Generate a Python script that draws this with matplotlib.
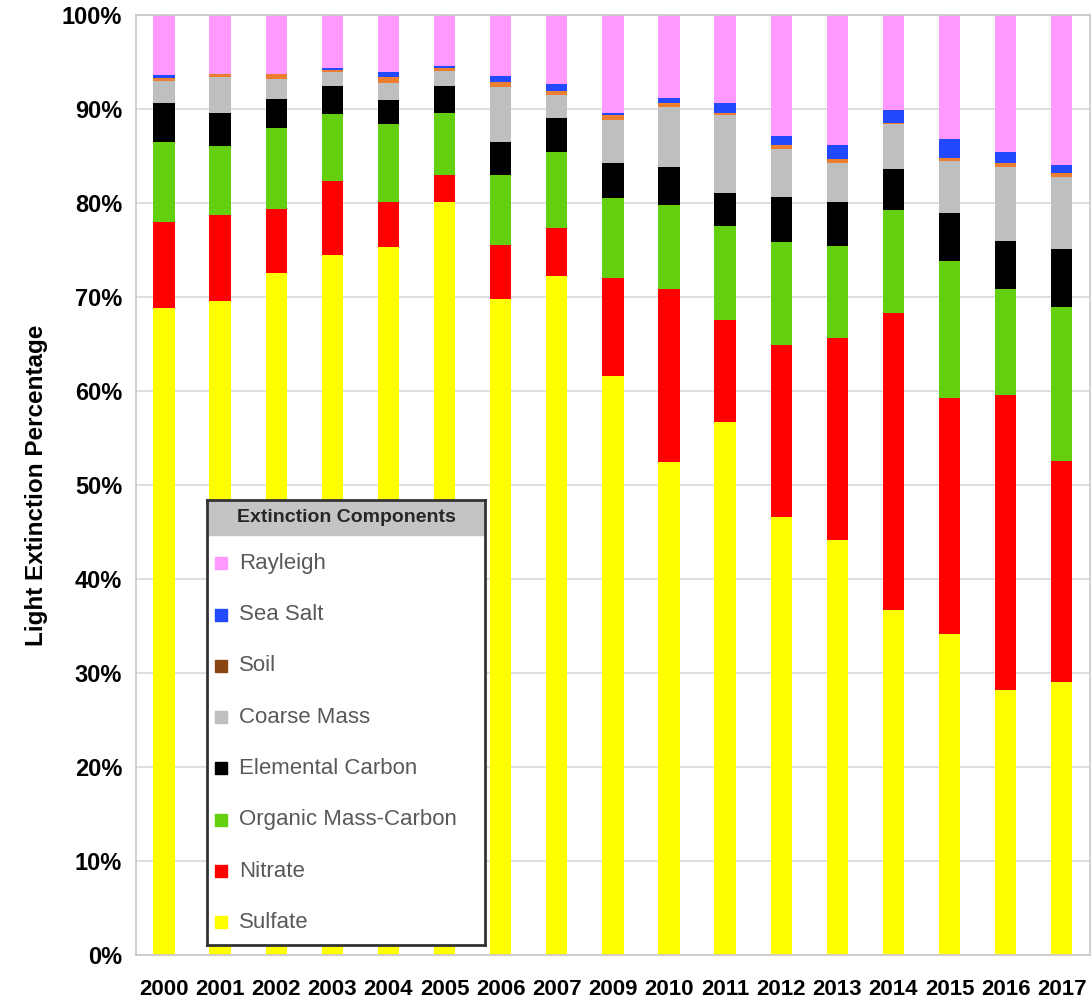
import matplotlib
matplotlib.use("Agg")
import matplotlib.pyplot as plt
from matplotlib.patches import Rectangle
import numpy as np

years = ["2000", "2001", "2002", "2003", "2004", "2005", "2006", "2007", "2009",
         "2010", "2011", "2012", "2013", "2014", "2015", "2016", "2017"]

# percent of light extinction, bottom of the stack first
sulfate = [68.8, 69.6, 72.6, 74.5, 75.3, 80.1, 69.8, 72.2, 61.6,
           52.5, 56.7, 46.6, 44.2, 36.7, 34.1, 28.2, 29.0]
nitrate = [9.2, 9.1, 6.8, 7.8, 4.8, 2.9, 5.7, 5.2, 10.4,
           18.4, 10.9, 18.3, 21.4, 31.6, 25.2, 31.4, 23.6]
organic = [8.5, 7.4, 8.6, 7.2, 8.3, 6.6, 7.5, 8.0, 8.5,
           8.9, 10.0, 11.0, 9.8, 11.0, 14.5, 11.3, 16.3]
elemental = [4.1, 3.5, 3.1, 3.0, 2.6, 2.9, 3.5, 3.7, 3.8,
             4.0, 3.5, 4.7, 4.7, 4.3, 5.1, 5.1, 6.2]
coarse = [2.4, 3.8, 2.1, 1.4, 1.8, 1.6, 5.9, 2.4, 4.5,
          6.4, 8.3, 5.2, 4.2, 4.8, 5.6, 7.8, 7.7]
soil = [0.3, 0.3, 0.5, 0.3, 0.6, 0.3, 0.5, 0.4, 0.6,
        0.5, 0.2, 0.4, 0.4, 0.1, 0.3, 0.5, 0.4]
sea_salt = [0.3, 0.05, 0.05, 0.2, 0.5, 0.2, 0.6, 0.8, 0.2,
            0.5, 1.0, 0.9, 1.5, 1.4, 2.0, 1.1, 0.8]
rayleigh = [6.4, 6.3, 6.3, 5.6, 6.1, 5.4, 6.5, 7.3, 10.4,
            8.8, 9.4, 12.9, 13.8, 10.1, 13.2, 14.6, 16.0]

components = ["Sulfate", "Nitrate", "Organic Mass-Carbon", "Elemental Carbon",
              "Coarse Mass", "Soil", "Sea Salt", "Rayleigh"]
series = [sulfate, nitrate, organic, elemental, coarse, soil, sea_salt, rayleigh]
bar_colors = ["#FFFF00", "#FF0000", "#63CF0F", "#000000",
              "#BFBFBF", "#ED7D31", "#2349FF", "#FF99FF"]
legend_colors = ["#FFFF00", "#FF0000", "#63CF0F", "#000000",
                 "#BFBFBF", "#8B4513", "#2349FF", "#FF99FF"]

plt.rcParams["font.family"] = ["Liberation Sans", "DejaVu Sans"]

fig = plt.figure(figsize=(10.92, 10.06), dpi=100)
ax = fig.add_axes([0.1245, 0.0507, 0.8735, 0.9343])

x = np.arange(len(years))
bottom = np.zeros(len(years))
for vals, col in zip(series, bar_colors):
    ax.bar(x, vals, width=0.38, bottom=bottom, color=col, zorder=2)
    bottom += np.array(vals)

ax.set_xlim(-0.5, len(years) - 0.5)
ax.set_ylim(0, 100)
ax.set_yticks(np.arange(0, 101, 10))
ax.set_yticklabels([f"{v}%" for v in range(0, 101, 10)], fontsize=17, fontweight="bold")
ax.set_xticks(x)
ax.set_xticklabels(years, fontsize=16, fontweight="bold")
ax.tick_params(length=0, pad=10)
ax.tick_params(axis="x", pad=17)
ax.yaxis.grid(True, color="#D9D9D9", lw=1.2, zorder=0)
ax.set_axisbelow(True)
for s in ax.spines.values():
    s.set_color("#C8C8C8")
    s.set_linewidth(1.2)
ax.set_ylabel("Light Extinction Percentage", fontsize=17.5, fontweight="bold", labelpad=10)

# legend box
lax = fig.add_axes([0.1896, 0.0606, 0.2546, 0.4423])
lax.set_xlim(0, 1)
lax.set_ylim(0, 1)
lax.set_xticks([])
lax.set_yticks([])
lax.set_facecolor("white")
for s in lax.spines.values():
    s.set_color("#333333")
    s.set_linewidth(2)
lax.add_patch(Rectangle((0, 0.922), 1, 0.078, color="#C4C4C4", zorder=1))
lax.text(0.5, 0.961, "Extinction Components", ha="center", va="center",
         fontsize=14, fontweight="bold", color="#262626")
step = 0.1153
for i, (name, col) in enumerate(zip(components[::-1], legend_colors[::-1])):
    y = 0.858 - i * step
    lax.scatter([0.05], [y], marker="s", s=75, color=col, zorder=3)
    lax.text(0.115, y, name, ha="left", va="center", fontsize=16, color="#595959")

fig.savefig("out.png", dpi=100)
